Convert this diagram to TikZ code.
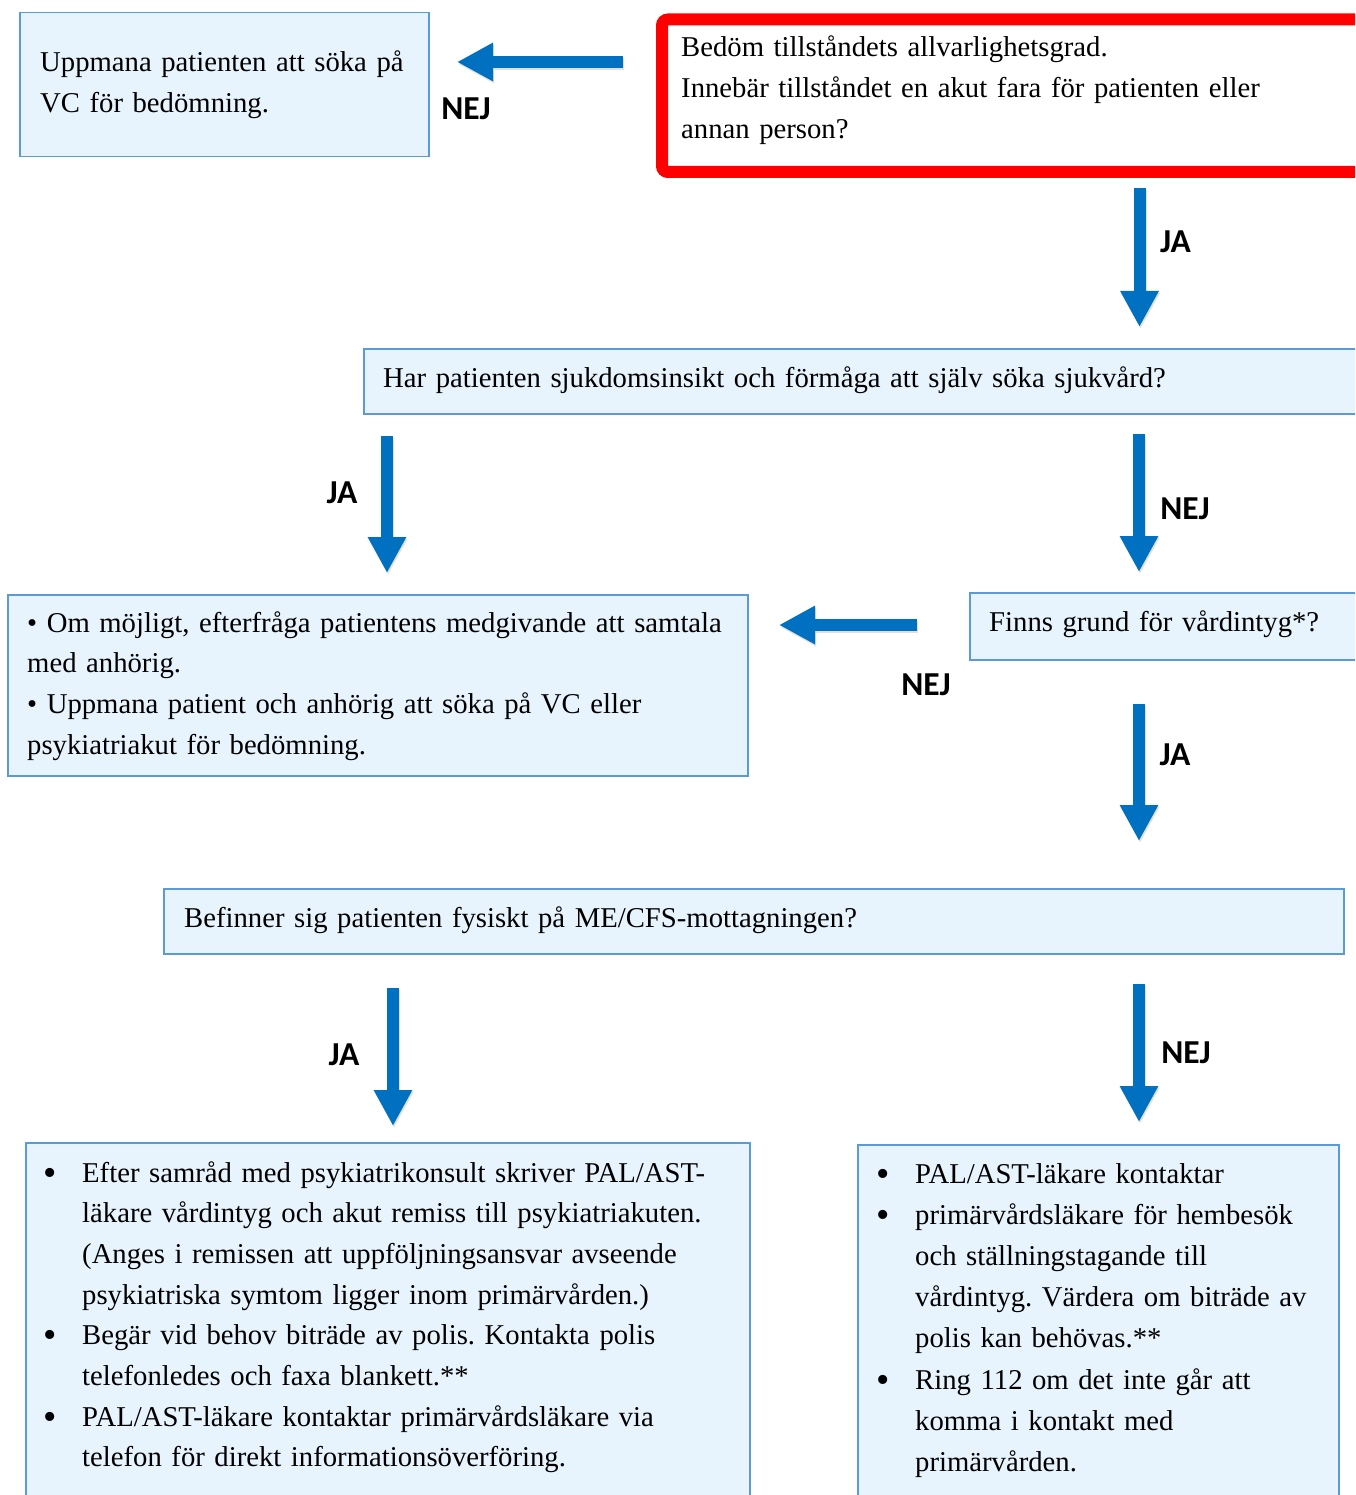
\documentclass[tikz,border=0pt]{standalone}
\usepackage{fontspec}
\setmainfont{Liberation Serif}
\newfontfamily\lblfont{Carlito}
\usetikzlibrary{arrows.meta}
\definecolor{boxfill}{HTML}{E7F3FD}
\definecolor{boxline}{HTML}{5B9BD5}
\definecolor{arrowblue}{HTML}{0070C0}
\definecolor{redline}{HTML}{FF0000}
\newcommand\bulA{\leavevmode\llap{\raisebox{-3pt}{\fontsize{38}{38}\selectfont\textbullet}\hspace{25pt}}}
\frenchspacing
\begin{document}
\begin{tikzpicture}[x=1pt,y=-1pt,
  box/.style={draw=boxline, line width=1.5pt, fill=boxfill, inner sep=0pt, anchor=north west},
  redbox/.style={draw=redline, line width=12pt, fill=white, rounded corners=6pt, inner sep=0pt, anchor=north west},
  txt/.style={inner sep=0pt, anchor=base west, align=left, font=\fontsize{28.7}{40.7}\selectfont\frenchspacing},
  lbl/.style={inner sep=0pt, anchor=base, font=\lblfont\bfseries\fontsize{33.5}{34}\selectfont},
  barrow/.style={line width=12pt, arrowblue, -{Triangle[width=36pt,length=36pt]}},
  bshadow/.style={line width=12pt, black!12, -{Triangle[width=36pt,length=36pt]}},
]
\clip (0,0) rectangle (1355,1495);
\fill[white] (0,0) rectangle (1355,1495);

% boxes
\node[box, minimum width=409pt, minimum height=144pt] (A) at (19,12) {};
\node[redbox, minimum width=760pt, minimum height=152.5pt] (B) at (656,13.5) {};
\node[box, minimum width=1000pt, minimum height=65pt] (C) at (363,348) {};
\node[box, minimum width=740pt, minimum height=181pt] (D) at (7,594) {};
\node[box, minimum width=400pt, minimum height=67pt] (E) at (969,592) {};
\node[box, minimum width=1180pt, minimum height=65pt] (F) at (163,888) {};
\node[box, minimum width=724pt, minimum height=400pt] (G) at (25,1142) {};
\node[box, minimum width=481pt, minimum height=400pt] (H) at (857,1144) {};

% texts
\node[txt, text width=400pt] (tA) at (40,72) {Uppmana patienten att söka på\\VC för bedömning.};
\node[txt, text width=680pt] (tB) at (681,57) {Bedöm tillståndets allvarlighetsgrad.\\Innebär tillståndet en akut fara för patienten eller\\annan person?};
\node[txt, text width=980pt] (tC) at (383,387) {Har patienten sjukdomsinsikt och förmåga att själv söka sjukvård?};
\node[txt, text width=730pt] (tD) at (27,632) {\textbullet\ Om möjligt, efterfråga patientens medgivande att samtala\\med anhörig.\\\textbullet\ Uppmana patient och anhörig att söka på VC eller\\psykiatriakut för bedömning.};
\node[txt, text width=380pt] (tE) at (989,631) {Finns grund för vårdintyg*?};
\node[txt, text width=1150pt] (tF) at (184,927) {Befinner sig patienten fysiskt på ME/CFS-mottagningen?};
\node[txt, text width=680pt] (tG) at (82,1182) {\bulA Efter samråd med psykiatrikonsult skriver PAL/AST-\\läkare vårdintyg och akut remiss till psykiatriakuten.\\(Anges i remissen att uppföljningsansvar avseende\\psykiatriska symtom ligger inom primärvården.)\\\bulA Begär vid behov biträde av polis. Kontakta polis\\telefonledes och faxa blankett.**\\\bulA PAL/AST-läkare kontaktar primärvårdsläkare via\\telefon för direkt informationsöverföring.};
\node[txt, text width=430pt, font=\fontsize{28.7}{41.2}\selectfont\frenchspacing] (tH) at (915,1183) {\bulA PAL/AST-läkare kontaktar\\\bulA primärvårdsläkare för hembesök\\och ställningstagande till\\vårdintyg. Värdera om biträde av\\polis kan behövas.**\\\bulA Ring 112 om det inte går att\\komma i kontakt med\\primärvården.};

% arrow coordinates
\coordinate (a1s) at (623,62);   \coordinate (a1e) at (457,62);
\coordinate (a2s) at (1139.5,188); \coordinate (a2e) at (1139.5,327);
\coordinate (a3s) at (387,436);  \coordinate (a3e) at (387,573);
\coordinate (a4s) at (1139,434); \coordinate (a4e) at (1139,572);
\coordinate (a5s) at (917,625);  \coordinate (a5e) at (779,625);
\coordinate (a6s) at (1139,704); \coordinate (a6e) at (1139,841);
\coordinate (a7s) at (393,988);  \coordinate (a7e) at (393,1126);
\coordinate (a8s) at (1139,984); \coordinate (a8e) at (1139,1122);

\foreach \i in {1,...,8}{
  \draw[bshadow, transform canvas={shift={(1pt,-2pt)}}] (a\i s) -- (a\i e);
}
\foreach \i in {1,...,8}{
  \draw[barrow] (a\i s) -- (a\i e);
}

% labels
\node[lbl] (l1) at (466,120) {NEJ};
\node[lbl] (l2) at (1175.5,253) {JA};
\node[lbl] (l3) at (342,503) {JA};
\node[lbl] (l4) at (1185,519) {NEJ};
\node[lbl] (l5) at (926,695) {NEJ};
\node[lbl] (l6) at (1175,765) {JA};
\node[lbl] (l7) at (344,1065) {JA};
\node[lbl] (l8) at (1186,1063) {NEJ};
\end{tikzpicture}
\end{document}
